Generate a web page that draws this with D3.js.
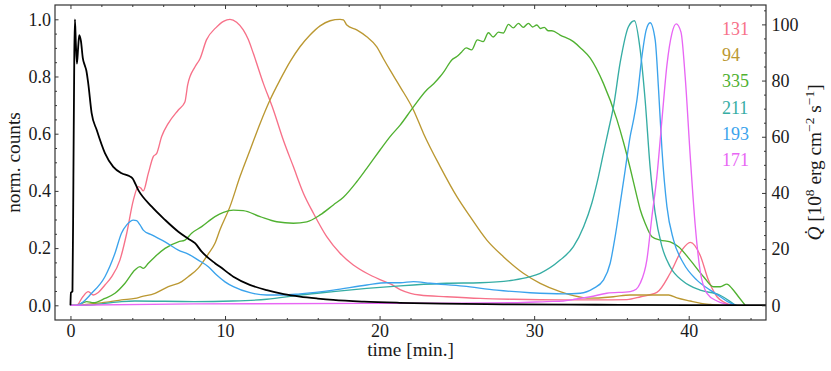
<!DOCTYPE html>
<html>
<head>
<meta charset="utf-8">
<script src="https://cdn.jsdelivr.net/npm/d3@7"></script>
<style>
  html, body { margin: 0; padding: 0; background: #fff; }
  text { font-family: "Liberation Serif", "Times New Roman", serif; fill: #1a1a1a; }
</style>
</head>
<body>
<div id="chart"></div>
<script>
// channel labels and colours (husl palette)
const channels = ['131', '94', '335', '211', '193', '171'];
const colors = ['#f77189', '#bb9832', '#50b131', '#36ada4', '#3ba3ec', '#e866f4'];

const xTicks = [0, 10, 20, 30, 40];
const yLeftTicks = [0.0, 0.2, 0.4, 0.6, 0.8, 1.0];
const yRightTicks = [0, 20, 40, 60, 80, 100];

// normalized counts, [time (min), value]
const s131 = [[0,0],[0.4,0],[0.8,0.03],[1.15,0.048],[1.48,0.036],[1.8,0.045],[2.23,0.071],[2.67,0.1],[3.2,0.158],[3.64,0.252],[4.07,0.368],[4.39,0.415],[4.55,0.41],[4.71,0.4],[5.04,0.462],[5.36,0.52],[5.58,0.531],[5.9,0.59],[6.33,0.636],[6.98,0.683],[7.41,0.712],[7.5,0.74],[7.58,0.77],[8.06,0.834],[8.38,0.862],[8.8,0.928],[9.4,0.97],[9.9,0.993],[10.32,1.0],[10.75,0.99],[11.18,0.963],[11.5,0.93],[11.83,0.881],[12.48,0.776],[13.13,0.683],[13.77,0.578],[14.42,0.485],[15.07,0.392],[15.72,0.322],[16.58,0.24],[17.44,0.182],[18.3,0.141],[19.17,0.112],[20.03,0.09],[20.7,0.075],[21.33,0.055],[22.0,0.042],[22.6,0.036],[24.35,0.03],[26.5,0.024],[28.66,0.021],[31.9,0.019],[34.06,0.019],[36.0,0.02],[36.9,0.03],[37.94,0.045],[38.8,0.112],[39.56,0.193],[40.1,0.22],[40.74,0.175],[41.26,0.09],[41.83,0.03],[42.3,0.01],[42.8,0]];
const s94 = [[0,0],[0.5,0],[1.3,0.005],[2.5,0.012],[3.3,0.019],[4.17,0.024],[4.6,0.03],[5.47,0.042],[6.33,0.065],[7.2,0.083],[7.62,0.1],[8.27,0.13],[8.92,0.18],[9.35,0.217],[9.68,0.265],[10.32,0.345],[10.97,0.45],[11.62,0.543],[12.27,0.636],[12.91,0.718],[13.56,0.788],[14.21,0.852],[14.85,0.904],[15.5,0.945],[16.15,0.977],[16.8,0.995],[17.44,1.0],[17.66,0.998],[17.88,0.98],[18.52,0.963],[19.17,0.939],[19.82,0.904],[20.25,0.862],[20.68,0.822],[21.33,0.764],[22.19,0.683],[22.84,0.601],[23.92,0.485],[25,0.38],[25.86,0.31],[26.94,0.228],[28.01,0.17],[29.3,0.112],[30.39,0.077],[31.68,0.048],[32.54,0.034],[33.62,0.025],[35.13,0.03],[36.21,0.036],[38.7,0.036],[39.24,0.026],[40.1,0.015],[40.8,0.007],[41.4,0.003],[42,0]];
const s335 = [[0,0],[0.4,0],[1.05,0.013],[1.48,0.009],[2.23,0.024],[2.88,0.042],[3.53,0.077],[4.17,0.123],[4.5,0.135],[4.71,0.129],[5.04,0.147],[5.47,0.17],[6.12,0.199],[6.98,0.222],[7.41,0.228],[7.84,0.252],[8.49,0.275],[9.35,0.31],[9.9,0.325],[10.54,0.333],[11.18,0.331],[12.27,0.31],[13.35,0.292],[14.42,0.287],[15.29,0.292],[16.15,0.316],[17.01,0.351],[17.66,0.378],[18.52,0.432],[19.17,0.479],[20.03,0.543],[20.68,0.59],[21.33,0.63],[22.19,0.694],[23.05,0.753],[23.5,0.775],[23.92,0.8],[24.2,0.82],[24.67,0.858],[25.0,0.87],[25.3,0.885],[25.6,0.9],[25.95,0.893],[26.33,0.928],[26.7,0.922],[27.04,0.953],[27.35,0.938],[27.69,0.955],[28.0,0.952],[28.34,0.982],[28.65,0.97],[28.98,0.986],[29.3,0.972],[29.63,0.986],[29.9,0.973],[30.17,0.98],[30.4,0.968],[30.65,0.972],[30.9,0.96],[31.15,0.96],[31.68,0.945],[32.54,0.922],[33.0,0.9],[33.63,0.864],[34.48,0.776],[35.35,0.65],[35.78,0.57],[36.21,0.48],[36.65,0.38],[36.86,0.335],[37.18,0.287],[37.62,0.24],[38.16,0.228],[38.8,0.222],[39.34,0.205],[40.1,0.158],[40.96,0.1],[41.6,0.065],[42.04,0.065],[42.47,0.074],[42.8,0.059],[43.22,0.03],[43.66,0]];
const s211 = [[0,0],[1.0,0],[2.0,0.005],[3.3,0.013],[4.17,0.015],[8,0.013],[10.5,0.015],[12.7,0.021],[14.85,0.036],[17,0.048],[19.17,0.059],[21.33,0.068],[22.19,0.071],[24.35,0.077],[26.5,0.079],[28.66,0.088],[29.74,0.1],[30.39,0.112],[31.68,0.158],[32.54,0.205],[33.2,0.275],[33.73,0.357],[34.16,0.45],[34.48,0.531],[34.81,0.613],[35.13,0.694],[35.57,0.85],[36.1,0.974],[36.49,0.995],[36.86,0.893],[37.18,0.718],[37.5,0.485],[37.83,0.322],[38.27,0.205],[38.8,0.135],[39.66,0.083],[40.74,0.053],[42.0,0.036],[42.69,0.013],[43,0]];
const s193 = [[0,0],[0.4,0],[1.37,0.042],[2.23,0.1],[2.88,0.182],[3.3,0.252],[3.64,0.281],[4.07,0.298],[4.28,0.296],[4.5,0.281],[4.71,0.263],[5.26,0.246],[6.12,0.222],[6.98,0.193],[7.62,0.179],[8.27,0.158],[8.92,0.135],[9.46,0.106],[10.0,0.082],[10.54,0.065],[11.62,0.044],[12.7,0.036],[13.77,0.036],[14.85,0.04],[17.01,0.053],[19.17,0.071],[20.47,0.079],[21.33,0.079],[22.19,0.083],[23.27,0.077],[25.42,0.067],[27.58,0.053],[29.74,0.044],[31.9,0.04],[32.98,0.042],[33.84,0.059],[34.48,0.088],[34.92,0.147],[35.24,0.24],[35.57,0.357],[35.89,0.473],[36.21,0.59],[36.43,0.648],[36.65,0.718],[36.97,0.869],[37.25,0.963],[37.5,0.988],[37.83,0.928],[38.05,0.753],[38.27,0.543],[38.59,0.345],[39.02,0.228],[39.66,0.147],[40.53,0.088],[41.39,0.053],[42.04,0.03],[42.6,0.01],[43.1,0]];
const s171 = [[0,0],[8,0.005],[21.33,0.007],[28.66,0.009],[30.82,0.013],[31.9,0.015],[32.5,0.02],[33.63,0.03],[34.7,0.042],[36.21,0.048],[36.6,0.056],[36.86,0.077],[37.29,0.158],[37.62,0.31],[37.94,0.45],[38.27,0.65],[38.59,0.84],[38.91,0.95],[39.19,0.984],[39.5,0.955],[39.77,0.8],[40.1,0.52],[40.42,0.28],[40.74,0.12],[41.18,0.042],[41.83,0.015],[42.4,0.004],[42.8,0]];

// heating rate Qdot, 10^8 erg cm^-2 s^-1, [time (min), value]
const sQdot = [[0,0],[0.03,4.5],[0.13,5],[0.19,45],[0.25,90],[0.29,101.8],[0.35,93],[0.42,86],[0.5,92],[0.57,96.2],[0.68,94],[0.8,88],[0.92,85.5],[1.03,83.5],[1.15,79],[1.37,68.4],[1.7,62.4],[2.23,54.2],[2.77,49.3],[3.31,47],[3.8,46],[4.0,45.3],[4.39,41],[5.26,35.1],[6.12,30.4],[6.98,26.2],[7.6,23.8],[8.06,22.1],[8.49,19.1],[9.35,15],[9.68,13.7],[10.54,10.2],[11.6,7.3],[12.7,5.4],[13.8,4.0],[14.85,3.1],[16,2.4],[17,1.9],[19,1.3],[21.3,0.9],[24,0.6],[28,0.35],[34,0.2],[40,0.1],[45,0.1]];

const series = [s131, s94, s335, s211, s193, s171];

const W = 831, H = 371;
const margin = {top: 5, right: 65, bottom: 51, left: 55};
const iw = W - margin.left - margin.right;
const ih = H - margin.top - margin.bottom;

const svg = d3.select('#chart').append('svg')
  .attr('width', W).attr('height', H);

const x = d3.scaleLinear().domain([-1, 45]).range([margin.left, margin.left + iw]);
const yL = d3.scaleLinear().domain([-0.0514, 1.05]).range([margin.top + ih, margin.top]);
const yR = d3.scaleLinear().domain([-5.23, 106.9]).range([margin.top + ih, margin.top]);

svg.append('defs').append('clipPath').attr('id', 'clip')
  .append('rect').attr('x', margin.left).attr('y', margin.top)
  .attr('width', iw).attr('height', ih);

const plot = svg.append('g').attr('clip-path', 'url(#clip)');

const lineL = d3.line().x(d => x(d[0])).y(d => yL(d[1])).curve(d3.curveMonotoneX);
const lineR = d3.line().x(d => x(d[0])).y(d => yR(d[1])).curve(d3.curveMonotoneX);

series.forEach((s, i) => {
  plot.append('path').datum(s)
    .attr('d', lineL)
    .attr('fill', 'none')
    .attr('stroke', colors[i])
    .attr('stroke-width', 1.35)
    .attr('stroke-linejoin', 'round');
});

plot.append('path').datum(sQdot)
  .attr('d', lineR)
  .attr('fill', 'none')
  .attr('stroke', '#000')
  .attr('stroke-width', 1.8)
  .attr('stroke-linejoin', 'round');

// axes, ticks pointing inward
const fs = 18;
function styleAxis(g) {
  g.select('.domain').remove();
  g.selectAll('.tick line').attr('stroke', '#222').attr('stroke-width', 0.9);
  g.selectAll('.tick text').attr('font-size', fs).attr('fill', '#1a1a1a')
    .attr('font-family', '"Liberation Serif", serif');
}

const xMinor = d3.range(0, 45, 2).filter(v => v % 10 !== 0);
const yLMinor = d3.range(0, 1.05, 0.05).map(v => +v.toFixed(2)).filter(v => Math.round(v * 100) % 20 !== 0);
const yRMinor = d3.range(0, 106, 5).filter(v => v % 20 !== 0);

const bottom = margin.top + ih, right = margin.left + iw;

svg.append('g').attr('transform', `translate(0,${bottom})`)
  .call(d3.axisBottom(x).tickValues(xTicks).tickSize(-4).tickPadding(3.9).tickFormat(d3.format('d')))
  .call(styleAxis);
svg.append('g').attr('transform', `translate(0,${bottom})`)
  .call(d3.axisBottom(x).tickValues(xMinor).tickSize(-2).tickFormat(''))
  .call(styleAxis);
svg.append('g').attr('transform', `translate(0,${margin.top})`)
  .call(d3.axisTop(x).tickValues(xTicks).tickSize(-4).tickFormat(''))
  .call(styleAxis);
svg.append('g').attr('transform', `translate(0,${margin.top})`)
  .call(d3.axisTop(x).tickValues(xMinor).tickSize(-2).tickFormat(''))
  .call(styleAxis);

svg.append('g').attr('transform', `translate(${margin.left},0)`)
  .call(d3.axisLeft(yL).tickValues(yLeftTicks).tickSize(-3.5).tickPadding(4).tickFormat(d3.format('.1f')))
  .call(styleAxis);
svg.append('g').attr('transform', `translate(${margin.left},0)`)
  .call(d3.axisLeft(yL).tickValues(yLMinor).tickSize(-2).tickFormat(''))
  .call(styleAxis);

svg.append('g').attr('transform', `translate(${right},0)`)
  .call(d3.axisRight(yR).tickValues(yRightTicks).tickSize(-4).tickPadding(5.5).tickFormat(d3.format('d')))
  .call(styleAxis);
svg.append('g').attr('transform', `translate(${right},0)`)
  .call(d3.axisRight(yR).tickValues(yRMinor).tickSize(-2).tickFormat(''))
  .call(styleAxis);

// frame
svg.append('rect')
  .attr('x', margin.left).attr('y', margin.top)
  .attr('width', iw).attr('height', ih)
  .attr('fill', 'none').attr('stroke', '#333').attr('stroke-width', 1.2);

// axis labels
const lfs = 19.3;
svg.append('text')
  .attr('x', (margin.left + right) / 2).attr('y', 356)
  .attr('text-anchor', 'middle').attr('font-size', lfs)
  .text('time [min.]');

svg.append('text')
  .attr('transform', `translate(20,${margin.top + ih / 2}) rotate(-90)`)
  .attr('text-anchor', 'middle').attr('font-size', lfs)
  .text('norm. counts');

const rl = svg.append('text')
  .attr('transform', `translate(821,${margin.top + ih / 2}) rotate(-90)`)
  .attr('text-anchor', 'middle').attr('font-size', lfs);
rl.append('tspan').attr('font-style', 'italic').text('Q\u0307');
rl.append('tspan').text(' [10');
rl.append('tspan').attr('dy', -7).attr('font-size', 13.5).text('8');
rl.append('tspan').attr('dy', 7).text(' erg cm');
rl.append('tspan').attr('dy', -7).attr('font-size', 13.5).text('\u22122');
rl.append('tspan').attr('dy', 7).text(' s');
rl.append('tspan').attr('dy', -7).attr('font-size', 13.5).text('\u22121');
rl.append('tspan').attr('dy', 7).text(']');

// legend as coloured labels
svg.append('g').selectAll('text')
  .data(channels).join('text')
    .attr('x', 722)
    .attr('y', (d, i) => 35 + i * 26.2)
    .attr('font-size', fs)
    .style('fill', (d, i) => colors[i])
    .text(d => d);
</script>
</body>
</html>
